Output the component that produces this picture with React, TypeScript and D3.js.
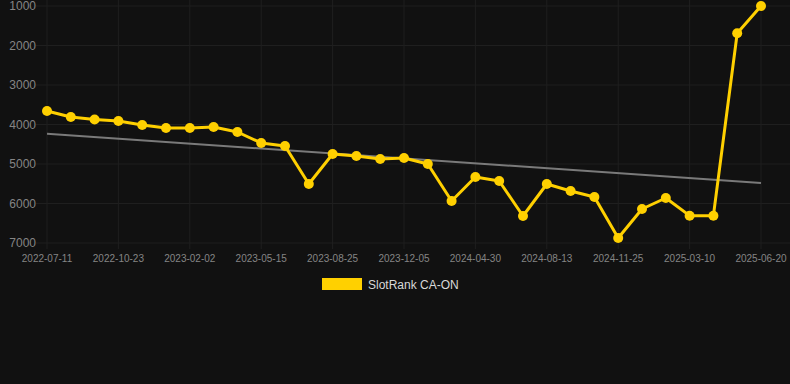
import React from "react";
import * as d3 from "d3";

const dates = [
  "2022-07-11", "2022-08-14", "2022-09-18", "2022-10-23", "2022-11-26", "2022-12-30",
  "2023-02-02", "2023-03-08", "2023-04-11", "2023-05-15", "2023-06-18", "2023-07-22",
  "2023-08-25", "2023-09-28", "2023-11-01", "2023-12-05", "2024-01-23", "2024-03-12",
  "2024-04-30", "2024-06-04", "2024-07-09", "2024-08-13", "2024-09-16", "2024-10-21",
  "2024-11-25", "2024-12-29", "2025-02-03", "2025-03-10", "2025-04-13", "2025-05-17",
  "2025-06-20",
];
const ranks = [
  3658, 3810, 3873, 3911, 4013, 4089, 4089, 4063, 4190, 4468, 4544, 5506,
  4747, 4797, 4873, 4848, 5000, 5937, 5329, 5430, 6316, 5506, 5684, 5835,
  6873, 6139, 5861, 6308, 6308, 1691, 1000,
];
const trendEnds = [4233, 5481];
const yTicks = [1000, 2000, 3000, 4000, 5000, 6000, 7000];
const seriesName = "SlotRank CA-ON";

const W = 790;
const H = 384;
const LINE = "#FFD000";

export default function App() {
  const plotL = 40, plotR = 790, plotT = 6, plotB = 243;
  const x = d3.scalePoint<string>().domain(dates).range([47, 761]);
  const y = d3.scaleLinear().domain([1000, 7000]).range([plotT, plotB]);
  const line = d3.line<number>()
    .x((_, i) => x(dates[i]) as number)
    .y((d) => y(d));
  const tickDates = dates.filter((_, i) => i % 3 === 0);
  const font = "'Liberation Sans', Arial, Helvetica, sans-serif";
  return (
    <div style={{ position: "fixed", left: 0, top: 0 }}>
      <svg width={W} height={H} style={{ display: "block", background: "#111111" }}>
        <rect x={0} y={0} width={W} height={H} fill="#111111" />
        {yTicks.map((t) => (
          <g key={t}>
            <line x1={plotL - 4} x2={plotR} y1={y(t)} y2={y(t)} stroke="#1f1f1f" strokeWidth={1} />
            <text x={plotL - 4} y={y(t)} dy="0.35em" textAnchor="end" fontSize={12} fill="#858585" fontFamily={font}>
              {t}
            </text>
          </g>
        ))}
        {tickDates.map((d) => (
          <g key={d}>
            <line x1={x(d)} x2={x(d)} y1={0} y2={plotB + 6} stroke="#1f1f1f" strokeWidth={1} />
            <text x={x(d)} y={262} textAnchor="middle" fontSize={10} fill="#858585" fontFamily={font}>
              {d}
            </text>
          </g>
        ))}
        <line
          x1={x(dates[0])}
          x2={x(dates[dates.length - 1])}
          y1={y(trendEnds[0])}
          y2={y(trendEnds[1])}
          stroke="#7a7a7a"
          strokeWidth={2}
        />
        <path d={line(ranks) || ""} fill="none" stroke={LINE} strokeWidth={3} strokeLinejoin="round" />
        {ranks.map((v, i) => (
          <circle key={i} cx={x(dates[i])} cy={y(v)} r={5} fill={LINE} />
        ))}
        <rect x={322} y={278} width={40} height={12} fill={LINE} />
        <text x={368} y={288.5} fontSize={12} fill="#d8d8d8" fontFamily={font}>
          {seriesName}
        </text>
      </svg>
    </div>
  );
}
